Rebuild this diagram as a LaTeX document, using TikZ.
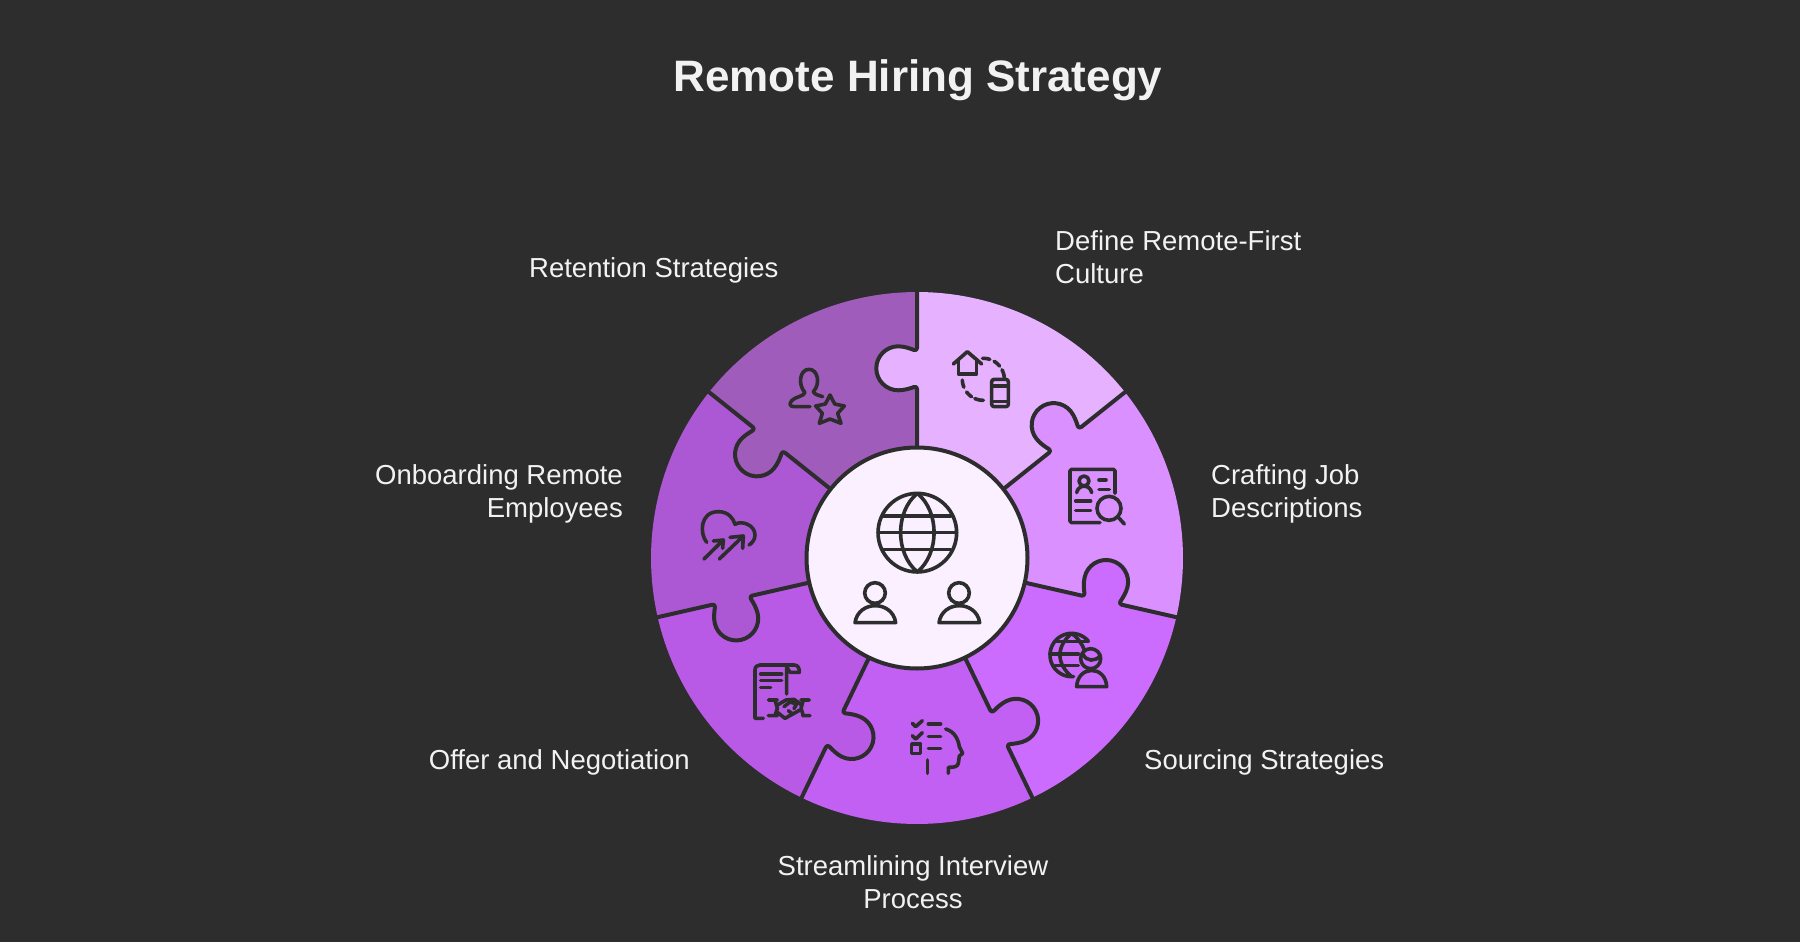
\documentclass[tikz,border=0pt]{standalone}
\usepackage{fontspec}
\setmainfont{Liberation Sans}
\definecolor{bgc}{HTML}{2D2D2D}
\definecolor{pA}{HTML}{E6B2FF}
\definecolor{pB}{HTML}{DA90FF}
\definecolor{pC}{HTML}{CB6CFF}
\definecolor{pD}{HTML}{C260F3}
\definecolor{pE}{HTML}{B85AE6}
\definecolor{pF}{HTML}{AC57D3}
\definecolor{pG}{HTML}{A05CBB}
\definecolor{core}{HTML}{FAF0FF}
\definecolor{ink}{HTML}{F2F2F2}
\tikzset{
  zoomed/.style 2 args={shift={(#1,#2)},x=0.33333pt,y=-0.33333pt},
  seamframe/.style={shift={(917,558)},y=1pt,rotate=-#1},
  seamline/.style={draw=bgc,line width=4pt,line join=round},
  icon/.style={draw=bgc,line width=3.6pt,line cap=round,line join=round},
  lab/.style={text=ink,inner sep=0pt,font=\fontsize{27.5}{33.6}\selectfont},
  ttl/.style={text=ink,inner sep=0pt,font=\fontsize{44}{50}\selectfont\bfseries},
}
% knob of a seam, local frame (tangential clockwise, radial)
\newcommand\knobcurve{.. controls (0,171) and (-1.5,171.5) .. (-3,171)
  .. controls (-7,169.5) and (-13,167.7) .. (-18.7,167.7)
  .. controls (-30.85,167.7) and (-40.7,177.55) .. (-40.7,189.7)
  .. controls (-40.7,201.85) and (-30.85,211.7) .. (-18.7,211.7)
  .. controls (-13,211.7) and (-7,209.5) .. (-3,208)
  .. controls (-1.5,207.5) and (0,208) .. (0,210)}
\begin{document}
\begin{tikzpicture}[x=1pt,y=-1pt]
\useasboundingbox (0,0) rectangle (1800,942);
\fill[bgc] (0,0) rectangle (1800,942);
% wedges
\foreach \i/\c in {0/pA,1/pB,2/pC,3/pD,4/pE,5/pF,6/pG}{
  \pgfmathsetmacro\a{\i*360/7}
  \begin{scope}[seamframe=\a]
    \fill[\c] (0,0) -- plot[domain=0:51.43,samples=40] ({266*sin(\x)},{266*cos(\x)}) -- cycle;
  \end{scope}
}
% knobs
\foreach \i/\c in {0/pA,1/pB,2/pC,3/pD,4/pE,5/pF,6/pG}{
  \pgfmathsetmacro\a{\i*360/7}
  \begin{scope}[seamframe=\a]
    \fill[\c] (0,169) \knobcurve -- (2,210) -- (2,169) -- cycle;
  \end{scope}
}
% seams
\foreach \i in {0,...,6}{
  \pgfmathsetmacro\a{\i*360/7}
  \begin{scope}[seamframe=\a]
    \draw[seamline] (0,110) -- (0,169) \knobcurve -- (0,267);
  \end{scope}
}
% core
\filldraw[fill=core,draw=bgc,line width=4pt] (917,558) circle[radius=110.5pt];

% core icons
\begin{scope}[zoomed={800}{440}]
  \draw[icon] (352,278) circle[radius=39.3pt];
  \draw[icon] (352,160) .. controls (285,215) and (285,340) .. (352,396) .. controls (419,340) and (419,215) .. (352,160);
  \draw[icon] (250,228) -- (452,228) (235,278) -- (470,278) (250,328) -- (452,328);
  \draw[icon] (225,459) circle[radius=10.3pt];
  \draw[icon] (165,548) .. controls (175,480) and (277,480) .. (287,548) -- cycle;
  \draw[icon] (477,459) circle[radius=10.3pt];
  \draw[icon] (417,548) .. controls (427,480) and (529,480) .. (539,548) -- cycle;
\end{scope}

% retention icon
\begin{scope}[zoomed={640}{280}]
  \draw[icon] (510,380) -- (462,380) .. controls (448,380) and (448,370) .. (455,362) .. controls (465,350) and (490,350) .. (495,338)
     .. controls (472,312) and (480,268) .. (507,268) .. controls (534,268) and (542,312) .. (520,335) .. controls (525,345) and (535,345) .. (548,350);
  \draw[icon] (570,345) -- (584,372) -- (613,378) -- (593,400) -- (603,430) -- (570,417) -- (538,430) -- (547,400) -- (527,378) -- (556,372) -- cycle;
\end{scope}

% define icon
\begin{scope}[zoomed={900}{280}]
  \draw[icon] (160,252) -- (202,215) -- (245,252);
  \draw[icon] (175,240) -- (175,282) -- (230,282) -- (230,240);
  \foreach \p/\q in {-92/-72,-59/-39,-27/-5,178/158,143/124,114/90}{
    \draw[icon] plot[domain=\p:\q,samples=6] ({250+63*cos(\x)},{298+63*sin(\x)});
  }
  \draw[icon,rounded corners=2.5pt] (275,298) rectangle (325,380);
  \draw[icon] (275,318) -- (325,318) (275,365) -- (325,365);
\end{scope}

% crafting icon
\begin{scope}[zoomed={900}{280}]
  \draw[icon,rounded corners=1.5pt] (600,728) -- (510,728) -- (510,568) -- (645,568) -- (645,640);
  \draw[icon] (552,603) circle[radius=5pt];
  \draw[icon] (530,638) .. controls (535,612) and (570,612) .. (575,638);
  \draw[icon] (597,600) -- (618,600) (597,628) -- (628,628) (527,663) -- (572,663) (527,692) -- (572,692);
  \draw[icon] (627,685) circle[radius=12pt];
  \draw[icon] (655,712) -- (673,732);
\end{scope}

% sourcing icon
\begin{scope}[zoomed={900}{550}]
  \draw[icon] plot[domain=85:320,samples=30] ({515+65*cos(\x)},{315+65*sin(\x)});
  \draw[icon] (515,250) .. controls (468,290) and (468,340) .. (515,380);
  \draw[icon] (515,250) .. controls (535,265) and (548,285) .. (553,300);
  \draw[icon] (465,275) -- (565,275) (450,312) -- (535,312) (465,347) -- (535,347);
  \draw[icon] (572,326) circle[radius=10pt];
  \draw[icon] (549,313) .. controls (560,335) and (585,335) .. (600,318);
  \draw[icon] (530,410) .. controls (533,345) and (617,345) .. (620,410) -- cycle;
\end{scope}

% interview icon
\begin{scope}[zoomed={900}{550}]
  \draw[icon] (37,520) -- (47,530) -- (67,512) (37,557) -- (47,567) -- (67,548);
  \draw[icon] (35,582) rectangle (62,610);
  \draw[icon] (85,522) -- (122,522) (85,559) -- (122,559) (85,596) -- (122,596) (82,630) -- (82,670);
  \draw[icon] (137,537) .. controls (165,545) and (175,570) .. (178,590) -- (188,610) -- (178,618) -- (175,640) .. controls (172,650) and (165,652) .. (145,652) -- (145,670);
\end{scope}

% offer icon
\begin{scope}[zoomed={640}{550}]
  \draw[icon] (370,505) -- (345,505) -- (345,360) .. controls (345,350) and (352,345) .. (360,345) -- (462,345) .. controls (475,345) and (478,355) .. (478,367) -- (450,367) .. controls (445,360) and (440,352) .. (440,345) -- (440,432);
  \draw[icon] (362,372) -- (425,372) (362,392) -- (425,392) (362,413) -- (392,413);
  \draw[icon] (385,450) -- (412,450) (405,450) -- (412,475) -- (405,497) (385,497) -- (412,497);
  \draw[icon] (483,450) -- (508,450) (490,450) -- (483,475) -- (490,497) (488,497) -- (510,497);
  \draw[icon] (412,487) -- (435,505) -- (480,480);
  \draw[icon] (412,465) -- (438,450) -- (462,448) -- (485,465);
  \draw[icon] (432,470) -- (450,456) -- (470,462) -- (462,476);
  \draw[icon] (445,482) -- (458,492);
\end{scope}

% onboarding icon
\begin{scope}[zoomed={680}{490}]
  \draw[icon] (80,157) .. controls (58,130) and (60,65) .. (115,65) .. controls (145,65) and (160,85) .. (165,103) .. controls (185,90) and (225,105) .. (225,135) .. controls (225,150) and (215,160) .. (207,165);
  \draw[icon] (72,207) -- (130,150) (100,153) -- (130,150) -- (128,175);
  \draw[icon] (118,207) -- (190,138) (150,142) -- (190,138) -- (188,175);
\end{scope}

% texts
\node[ttl,anchor=base] (title) at (918,92) {Remote Hiring Strategy};
\node[lab,anchor=base west] (lretain) at (529,277) {Retention Strategies};
\node[lab,anchor=north west,align=left] (ldefine) at (1055,230) {Define Remote-First\\Culture};
\node[lab,anchor=north west,align=left] (lcraft) at (1211,464) {Crafting Job\\Descriptions};
\node[lab,anchor=base west] (lsource) at (1144,769) {Sourcing Strategies};
\node[lab,anchor=base east] (loffer) at (690,769) {Offer and Negotiation};
\node[lab,anchor=north east,align=right] (lonboard) at (623,464) {Onboarding Remote\\Employees};
\node[lab,anchor=north,align=center] (linterview) at (913,855) {Streamlining Interview\\Process};
\end{tikzpicture}
\end{document}
